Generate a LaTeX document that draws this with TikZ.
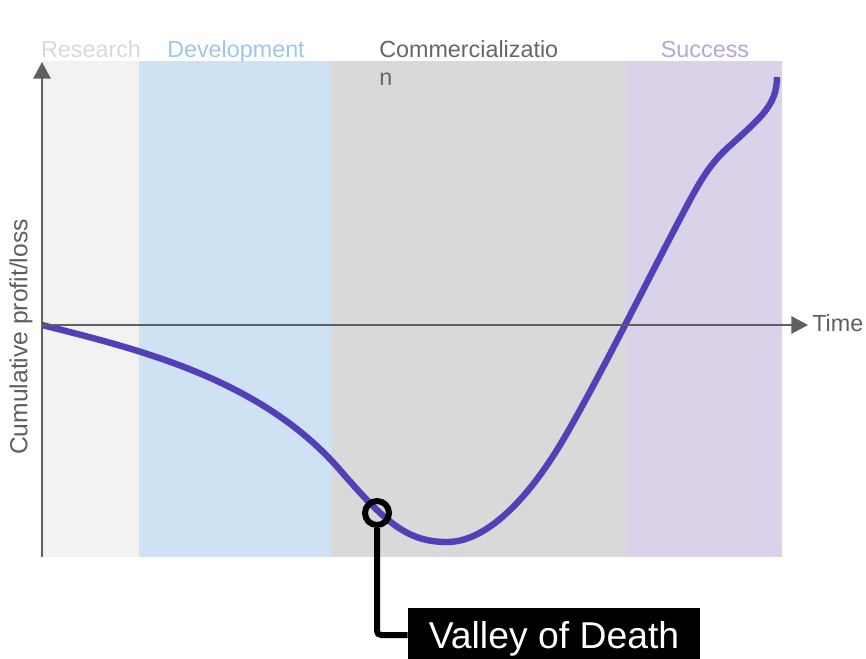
\documentclass[tikz,border=0pt]{standalone}
\usepackage{fontspec}
\setmainfont{Liberation Sans}
\usetikzlibrary{arrows.meta}
\definecolor{resbg}{HTML}{F2F2F2}
\definecolor{devbg}{HTML}{CFE2F3}
\definecolor{combg}{HTML}{D9D9D9}
\definecolor{sucbg}{HTML}{D9D2E9}
\definecolor{resfg}{HTML}{D9D9D9}
\definecolor{devfg}{HTML}{9FC5E8}
\definecolor{comfg}{HTML}{666666}
\definecolor{sucfg}{HTML}{B4A7D6}
\definecolor{axisgray}{HTML}{5F5F5F}
\definecolor{curvepurple}{HTML}{5340B8}
\begin{document}
\begin{tikzpicture}[x=0.75pt,y=-0.75pt,
  phase/.style={font=\fontsize{17.5}{21}\selectfont, anchor=base, inner sep=0pt},
  axislabel/.style={text=axisgray, inner sep=0pt},
  axis/.style={draw=axisgray, line width=1.5pt, -{Triangle[length=12.5pt,width=13pt]}},
  curve/.style={draw=curvepurple, line width=4.8pt},
  leader/.style={draw=black, line width=4.5pt}]
\useasboundingbox (0,0) rectangle (866,658);
% phase bands
\fill[resbg] (43,61) rectangle (139,557);
\fill[devbg] (139,61) rectangle (331,557);
\fill[combg] (331,61) rectangle (626,557);
\fill[sucbg] (626,61) rectangle (782,557);
% phase labels
\node[phase, text=resfg] (research) at (91,57) {Research};
\node[phase, text=devfg] (development) at (236,57) {Development};
\node[phase, text=comfg, anchor=base west, align=left] (commercialization) at (379,85) {Commercializatio\\n};
\node[phase, text=sucfg] (success) at (705,57) {Success};
% curve
\draw[curve] (42,325) .. controls (142,350) and (262,380) .. (340,470)
  .. controls (385,522) and (407,542) .. (447,542)
  .. controls (490,542) and (533,491) .. (563,440)
  .. controls (600,377) and (655,265) .. (690,200)
  .. controls (703,176) and (713,160) .. (733,143)
  .. controls (760,118) and (777,105) .. (777,77);
% axes
\coordinate (origin) at (42,325);
\coordinate (ybottom) at (42,557);
\coordinate (ytip) at (42,62);
\coordinate (xtip) at (808,325);
\draw[axis] (ybottom) -- (ytip);
\draw[axis] (origin) -- (xtip);
\node[axislabel, anchor=west, font=\fontsize{17.5}{21}\selectfont] (time) at (812,323) {Time};
\node[axislabel, rotate=90, font=\fontsize{18.5}{22}\selectfont] (ylabel) at (21,337) {Cumulative profit/loss};
% valley of death marker
\node[circle, draw=black, line width=4.5pt, minimum size=18pt, inner sep=0pt] (vod) at (377,513) {};
\node[fill=black, text=white, font=\fontsize{28}{32}\selectfont, text depth=0pt,
      minimum width=219pt, minimum height=41.25pt, inner sep=0pt] (vodbox) at (554,635) {Valley of Death};
\draw[leader, rounded corners=3pt] (vod.south) |- (vodbox.west);
\end{tikzpicture}
\end{document}
